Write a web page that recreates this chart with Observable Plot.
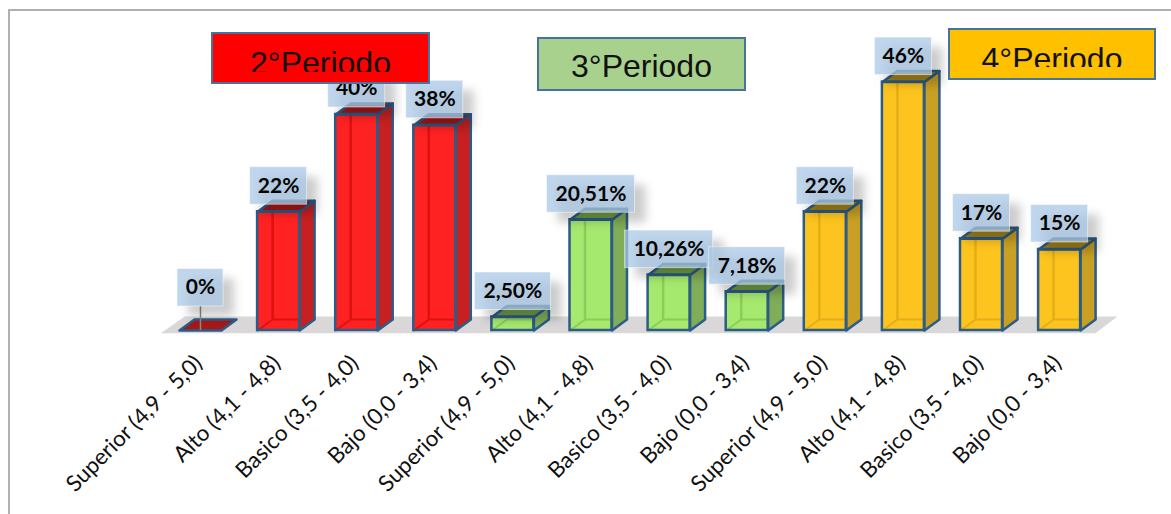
<!DOCTYPE html>
<html><head><meta charset="utf-8">
<script src="https://cdn.jsdelivr.net/npm/d3@7"></script>
<script src="https://cdn.jsdelivr.net/npm/@observablehq/plot@0.6"></script>
<style>
html,body{margin:0;padding:0;background:#fff;width:1171px;height:514px;overflow:hidden}
#wrap{position:relative;width:1171px;height:514px;overflow:hidden}
.frame{position:absolute;left:8px;top:8.5px;width:1200px;height:600px;border:2px solid #b0b0b0;box-sizing:border-box}
.leg{position:absolute;box-sizing:border-box;border:2.5px solid #45749f;font:32px "Liberation Sans",Arial,sans-serif;color:#111;text-align:center}
.leg div{overflow:hidden;line-height:44px}
</style></head><body><div id="wrap"><div class="frame"></div></div>
<script>
const categories=["Superior (4,9 - 5,0)","Alto (4,1 - 4,8)","Basico (3,5 - 4,0)","Bajo (0,0 - 3,4)"];
const periodo2=[0,22,40,38];
const periodo3=[2.5,20.51,10.26,7.18];
const periodo4=[22,46,17,15];
const labels2=["0%","22%","40%","38%"];
const labels3=["2,50%","20,51%","10,26%","7,18%"];
const labels4=["22%","46%","17%","15%"];
const palette=[
 {front:"#ff2222",side:"#c82020",top:"#a51818",back:"#e01010"},
 {front:"#a6e96f",side:"#80ae58",top:"#6f9c48",back:"#8ccc58"},
 {front:"#fdc41f",side:"#c9a023",top:"#a4841a",back:"#e4ae18"}];

const PXX=78.1, PXY=5.4;         // pixels per category, pixels per percent
const px=d=>d/PXX, py=d=>d/PXY;
const HALF=px(21), DX=px(15), DY=py(11);
const rows=[[periodo2,labels2],[periodo3,labels3],[periodo4,labels4]].flatMap(([v,l],p)=>
  v.map((value,k)=>({value,label:l[k],cat:categories[k],p,i:p*4+k})));

const poly=(name,fn)=>rows.flatMap(r=>fn(r).map(([x,y])=>({x,y,id:name+r.i,p:r.p,flat:r.value===0})));
const sidePts=r=>[[r.i+HALF,0],[r.i+HALF+DX,DY],[r.i+HALF+DX,r.value+DY],[r.i+HALF,r.value],[r.i+HALF,0]];
const topPts=r=>[[r.i-HALF,r.value],[r.i+HALF,r.value],[r.i+HALF+DX,r.value+DY],[r.i-HALF+DX,r.value+DY],[r.i-HALF,r.value]];

const floor=[[-0.51,-0.5],[11.46,-0.5],[11.74,2.6],[-0.2,2.6]].map(([x,y])=>({x,y}));
const tall=rows.filter(r=>r.value>0);
const edge="#2c5c88";
const colorOf=k=>d=>palette[d.p][k];
const boxW=r=>px(r.label.length<3?46:r.label.length<4?57:r.label.length<6?76:88);
const liftOf=r=>r.value===0?24:7;
const box=r=>({x1:r.i-boxW(r)/2,x2:r.i+boxW(r)/2,y1:r.value+py(liftOf(r)),y2:r.value+py(liftOf(r)+37.5)});
const boxes=rows.map(r=>({...r,...box(r)}));

const chart=Plot.plot({
 width:1171,height:514,marginTop:0,marginRight:0,marginBottom:184,marginLeft:0,
 style:{background:"transparent",position:"absolute",left:"0",top:"0"},
 x:{domain:[-200/PXX,(1171-200)/PXX],range:[0,1171],axis:null},
 y:{domain:[0,330/PXY],range:[330,0],axis:null},
 marks:[
  Plot.line(floor.concat(floor[0]),{x:"x",y:"y",fill:"#d9d7d8",stroke:"none"}),
  Plot.rect(tall,{x1:d=>d.i-HALF,x2:d=>d.i+HALF,y1:0,y2:d=>d.value,fill:colorOf("front")}),
  Plot.ruleX(tall,{x:d=>d.i-HALF+DX,y1:DY,y2:d=>d.value+DY,stroke:colorOf("back"),strokeWidth:2.5}),
  Plot.line(tall.flatMap(r=>[[r.i-HALF,0],[r.i-HALF+DX,DY],[r.i+HALF+DX,DY]].map(([x,y])=>({x,y,id:r.i,p:r.p}))),
    {x:"x",y:"y",z:"id",stroke:colorOf("back"),strokeWidth:2}),
  Plot.line(poly("s",sidePts).filter(d=>!d.flat),{x:"x",y:"y",z:"id",fill:colorOf("side"),stroke:edge,strokeWidth:2.5,strokeLinejoin:"round"}),
  Plot.line(poly("t",topPts),{x:"x",y:"y",z:"id",fill:colorOf("top"),stroke:edge,strokeWidth:2.5,strokeLinejoin:"round"}),
  Plot.rect(tall,{x1:d=>d.i-HALF,x2:d=>d.i+HALF,y1:0,y2:d=>d.value,fill:"none",stroke:edge,strokeWidth:2.5}),
  Plot.ruleX(boxes.filter(r=>r.value===0),{x:"i",y1:"value",y2:"y1",stroke:"#8a8a8a",strokeWidth:1.5}),
  Plot.rect(boxes,{x1:d=>d.x1+px(11),x2:d=>d.x2+px(11),y1:d=>d.y1-py(10),y2:d=>d.y2-py(10),fill:"#000",fillOpacity:.2,imageFilter:"blur(5px)"}),
  Plot.rect(boxes,{x1:"x1",x2:"x2",y1:"y1",y2:"y2",fill:"#a9c8e6",fillOpacity:.75,stroke:"#fff",strokeOpacity:.5,strokeWidth:1}),
  Plot.text(boxes,{x:"i",y:d=>(d.y1+d.y2)/2,text:"label",fontFamily:"Lato",fontWeight:700,fontSize:21,fill:"#050505"}),
  Plot.axisX({anchor:"bottom",ticks:d3.range(12),tickFormat:i=>rows[i].cat,tickSize:0,tickRotate:-45,tickPadding:29,fontSize:22.3,fontFamily:"Lato",label:null,fill:"#111",dx:-2})
 ]});
const wrap=document.getElementById("wrap");
wrap.appendChild(chart);
const legends=[["2°Periodo","#ff0000",211,32,219,52,7,30.5],["3°Periodo","#a9d18e",537,37,209,54,5.3,44],["4°Periodo","#ffc000",948,28,208,52,6.5,30]];
for(const [t,c,l,tp,w,h,mt,ih] of legends){
 const d=document.createElement("div");d.className="leg";
 d.style.cssText=`left:${l}px;top:${tp}px;width:${w}px;height:${h}px;background:${c}`;
 const i=document.createElement("div");i.textContent=t;i.style.height=ih+"px";i.style.marginTop=mt+"px";
 d.appendChild(i);wrap.appendChild(d);
}
</script></body></html>
